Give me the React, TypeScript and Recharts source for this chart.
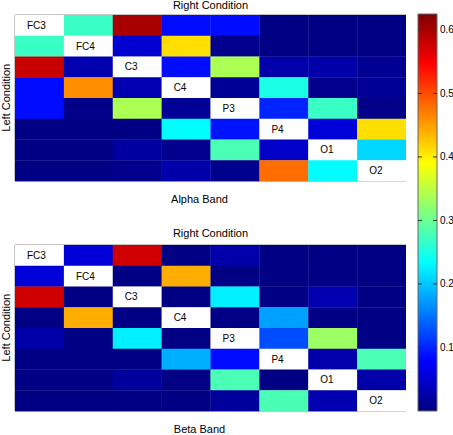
import React from 'react';
import {
  ScatterChart,
  Scatter,
  XAxis,
  YAxis,
  ReferenceArea,
  BarChart,
  Bar
} from 'recharts';

const channels = ['FC3', 'FC4', 'C3', 'C4', 'P3', 'P4', 'O1', 'O2'];

// null = diagonal (drawn white with the channel name)
const alphaRows: (number | null)[][] = [
  [null, 0.27, 0.6, 0.085, 0.085, 0.003, 0.003, 0.003],
  [0.27, null, 0.05, 0.41, 0.008, 0.003, 0.003, 0.003],
  [0.58, 0.03, null, 0.085, 0.34, 0.026, 0.026, 0.012],
  [0.085, 0.46, 0.03, null, 0.014, 0.25, 0.008, 0.014],
  [0.085, 0.005, 0.34, 0.014, null, 0.1, 0.27, 0.005],
  [0.003, 0.003, 0.003, 0.234, 0.09, null, 0.055, 0.41],
  [0.003, 0.003, 0.02, 0.008, 0.28, 0.045, null, 0.21],
  [0.003, 0.003, 0.008, 0.026, 0.008, 0.48, 0.234, null]
];

const betaRows: (number | null)[][] = [
  [null, 0.055, 0.575, 0.003, 0.026, 0.003, 0.003, 0.003],
  [0.055, null, 0.003, 0.44, 0.003, 0.003, 0.003, 0.003],
  [0.575, 0.003, null, 0.003, 0.225, 0.003, 0.03, 0.003],
  [0.003, 0.44, 0.003, null, 0.003, 0.176, 0.003, 0.003],
  [0.026, 0.003, 0.225, 0.003, null, 0.125, 0.33, 0.003],
  [0.003, 0.003, 0.003, 0.186, 0.085, null, 0.026, 0.28],
  [0.003, 0.003, 0.018, 0.003, 0.28, 0.003, null, 0.026],
  [0.003, 0.003, 0.003, 0.003, 0.018, 0.28, 0.03, null]
];

const colorTicks = [0.1, 0.2, 0.3, 0.4, 0.5, 0.6];
const colorMax = 0.625;

const FONT = '"Liberation Sans", Arial, Helvetica, sans-serif';
const PLOT_W = 391;
const PLOT_H = 166;

const jet = (v: number) => {
  const p = Math.max(0, Math.min(1, v / colorMax));
  const c = (x: number) => Math.round(255 * Math.max(0, Math.min(1, x)));
  const r = Math.min(4 * p - 1.5, -4 * p + 4.5);
  const g = Math.min(4 * p - 0.5, -4 * p + 3.5);
  const b = Math.min(4 * p + 0.5, -4 * p + 2.5);
  return `rgb(${c(r)},${c(g)},${c(b)})`;
};

const Heatmap = ({ rows, top }: { rows: (number | null)[][]; top: number }) => {
  const n = channels.length;
  const data = rows.flatMap((row, r) =>
    row.map((v, c) => ({ x: c + 0.5, y: r + 0.5, v, name: r === c ? channels[r] : '' }))
  );
  const cellW = PLOT_W / n;
  const cellH = PLOT_H / n;

  const cell = (props: any) => {
    const { cx, cy, payload } = props;
    const x = cx - cellW / 2;
    const y = cy - cellH / 2;
    const diag = payload.v == null;
    return (
      <g>
        <rect x={x} y={y} width={cellW + 0.3} height={cellH + 0.3} fill={diag ? '#ffffff' : jet(payload.v)} />
        {diag && (
          <text x={x + 12} y={cy + 3.5} fontSize={10} fontFamily={FONT} fill="#000">
            {payload.name}
          </text>
        )}
      </g>
    );
  };

  return (
    <div style={{ position: 'absolute', left: 0, top, width: 406, height: 215 }}>
      <ScatterChart width={406} height={215} margin={{ top: 15, right: 0, bottom: 34, left: 15 }}>
        <XAxis type="number" dataKey="x" domain={[0, n]} hide />
        <YAxis type="number" dataKey="y" domain={[0, n]} reversed hide />
        <Scatter data={data} shape={cell} isAnimationActive={false} />
        <ReferenceArea x1={0} x2={n} y1={0} y2={n} fill="none" stroke="#8a8a8a" strokeWidth={1} />
      </ScatterChart>
    </div>
  );
};

const ColorTick = (props: any) => {
  const { y, payload } = props;
  return (
    <g>
      <line x1={18} x2={22} y1={y} y2={y} stroke="#333" strokeWidth={1} />
      <line x1={33} x2={37} y1={y} y2={y} stroke="#333" strokeWidth={1} />
      <text x={40} y={y + 3.5} fontSize={10} fontFamily={FONT} fill="#000">
        {payload.value}
      </text>
    </g>
  );
};

const ColorBar = () => (
  <div style={{ position: 'absolute', left: 400, top: 0, width: 53, height: 435 }}>
    <BarChart width={53} height={435} data={[{ name: 'scale', top: colorMax }]}
      margin={{ top: 14, right: 0, bottom: 24, left: 18 }} barCategoryGap={0}>
      <defs>
        <linearGradient id="jetGrad" x1="0" y1="0" x2="0" y2="1">
          <stop offset="0" stopColor="rgb(128,0,0)" />
          <stop offset="0.125" stopColor="rgb(255,0,0)" />
          <stop offset="0.375" stopColor="rgb(255,255,0)" />
          <stop offset="0.625" stopColor="rgb(0,255,255)" />
          <stop offset="0.875" stopColor="rgb(0,0,255)" />
          <stop offset="1" stopColor="rgb(0,0,128)" />
        </linearGradient>
      </defs>
      <XAxis dataKey="name" hide />
      <YAxis orientation="right" width={16} domain={[0, colorMax]} ticks={colorTicks}
        axisLine={false} tickLine={false} tick={<ColorTick />} interval={0} />
      <Bar dataKey="top" fill="url(#jetGrad)" stroke="#666" strokeWidth={1} isAnimationActive={false} />
    </BarChart>
  </div>
);

export default function App() {
  return (
    <div style={{ position: 'absolute', left: 0, top: 0, width: 453, height: 435, background: '#fff', fontFamily: FONT }}>
      <Heatmap rows={alphaRows} top={0} />
      <Heatmap rows={betaRows} top={230} />
      <ColorBar />
      <svg width={453} height={435} style={{ position: 'absolute', left: 0, top: 0, pointerEvents: 'none' }}>
        <g fontFamily={FONT} fontSize={11} fill="#000">
          <text x={210.5} y={9} textAnchor="middle">Right Condition</text>
          <text x={199.5} y={202.7} textAnchor="middle">Alpha Band</text>
          <text x={210.5} y={237.3} textAnchor="middle">Right Condition</text>
          <text x={199.5} y={432.7} textAnchor="middle">Beta Band</text>
          <text transform="translate(9.5,97.7) rotate(-90)" textAnchor="middle">Left Condition</text>
          <text transform="translate(9.5,327.7) rotate(-90)" textAnchor="middle">Left Condition</text>
        </g>
      </svg>
    </div>
  );
}
